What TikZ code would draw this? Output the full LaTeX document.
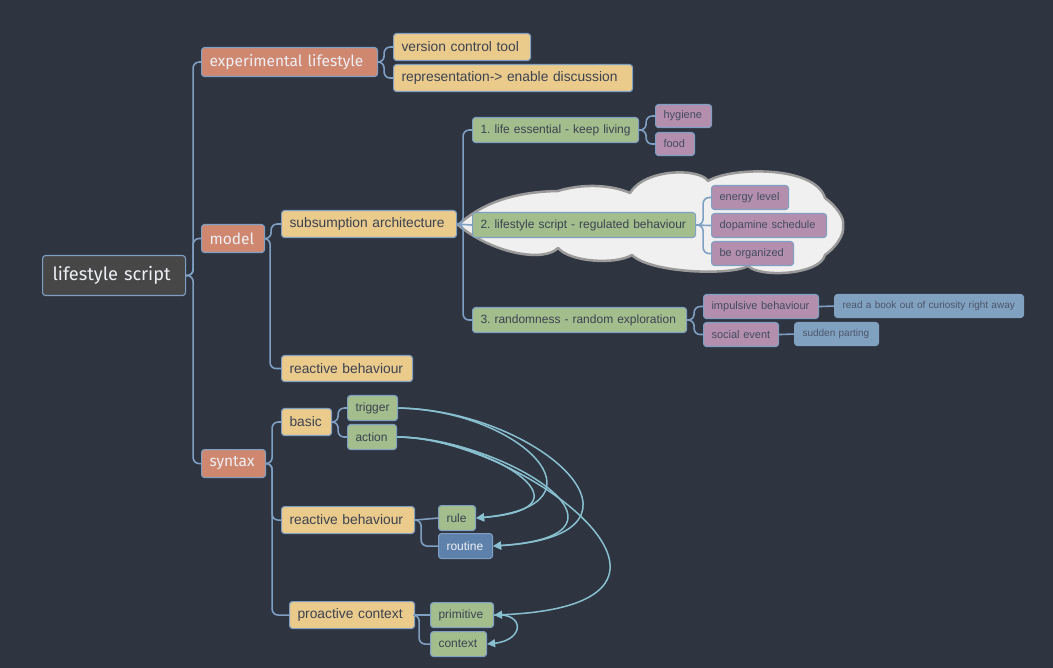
\documentclass[tikz,border=0pt]{standalone}
\usepackage{fontspec}
\setmainfont{Liberation Sans}
\newfontfamily\ubfont{Fira Sans}
\usetikzlibrary{arrows.meta}
\frenchspacing
\definecolor{bg}{HTML}{2E3440}
\definecolor{edgec}{HTML}{7F9FC3}
\definecolor{arrc}{HTML}{88C0D0}
\definecolor{yelc}{HTML}{EBCB8B}
\definecolor{grnc}{HTML}{A3BE8C}
\definecolor{purc}{HTML}{B48EAD}
\definecolor{bluc}{HTML}{81A1C1}
\definecolor{dbluc}{HTML}{5E81AC}
\definecolor{salc}{HTML}{D08770}
\definecolor{rootc}{HTML}{474747}
\definecolor{dtext}{HTML}{3B4252}
\definecolor{ptext}{HTML}{434C5E}
\definecolor{btext}{HTML}{4C566A}
\definecolor{ltext}{HTML}{ECEFF4}
\definecolor{cloudf}{HTML}{F0F0F0}
\definecolor{cloudd}{HTML}{9A9A9A}
\tikzset{
  basebox/.style={rounded corners=3pt, draw=edgec, line width=1.1pt, inner xsep=8pt, inner ysep=0pt, align=left},
  ystyle/.style={basebox, fill=yelc, text=dtext, font=\fontsize{13.8}{16}\selectfont},
  gstyle/.style={basebox, fill=grnc, text=dtext, font=\fontsize{12}{14}\selectfont},
  pstyle/.style={basebox, fill=purc, text=ptext, font=\fontsize{11}{13}\selectfont},
  bstyle/.style={basebox, fill=bluc, draw=bluc, text=btext, font=\fontsize{10}{12}\selectfont},
  sstyle/.style={basebox, fill=salc, text=ltext, font=\ubfont\fontsize{15.5}{18}\selectfont},
  rstyle/.style={gstyle, fill=dbluc, text=ltext},
  treeline/.style={draw=edgec, line width=1.6pt, rounded corners=6pt},
  link/.style={draw=arrc, line width=1.5pt, -{Triangle[length=8pt,width=8pt]}}
}
\newcommand{\mnode}[7]{\pgfmathsetmacro{\mtw}{#5-16}\node[#1, anchor=north west, minimum width=#5pt, minimum height=#6pt, text width=\mtw pt] (#2) at (#3,#4) {\mbox{#7}};}
\newcommand{\tedge}[3]{\draw[treeline] (#1.east) -- ++(#3,0) |- (#2.west);}
\newcommand{\sedge}[2]{\draw[treeline] (#1.east) -- (#2.west);}
\begin{document}
\begin{tikzpicture}[x=1pt,y=-1pt]
\useasboundingbox (0,0) rectangle (1053,668);
\fill[bg] (0,0) rectangle (1053,668);
% cloud
\draw[fill=cloudf, draw=cloudd, line width=2.5pt, line join=round]
  (458,225) .. controls (480,205) and (510,192) .. (558,191)
  .. controls (580,184) and (610,184) .. (630,193)
  .. controls (645,168) and (700,168) .. (708,181)
  .. controls (730,167) and (815,165) .. (825,198)
  .. controls (835,205) and (845,218) .. (843,225)
  .. controls (845,235) and (835,248) .. (825,255)
  .. controls (820,275) and (760,278) .. (748,266)
  .. controls (730,276) and (650,273) .. (632,255)
  .. controls (615,265) and (570,262) .. (558,248)
  .. controls (545,262) and (495,255) .. (458,225) -- cycle;
% nodes
\node[basebox, fill=rootc, text=ltext, font=\ubfont\fontsize{18.2}{22}\selectfont, inner xsep=10pt, anchor=north west, minimum width=143pt, minimum height=40pt, text width=123pt] (root) at (42,255) {\mbox{lifestyle script}};
\mnode{sstyle}{exp}{201}{47}{176}{29}{experimental lifestyle}
\mnode{sstyle}{model}{201}{224}{63}{28}{model}
\mnode{sstyle}{syntax}{201}{449}{64}{28}{syntax}
\mnode{ystyle}{version}{393}{33}{137}{27}{version control tool}
\mnode{ystyle}{repr}{393}{64}{239}{27}{representation-> enable discussion}
\mnode{ystyle}{subs}{281}{210}{175}{27}{subsumption architecture}
\mnode{ystyle}{reactM}{281}{355}{131}{26}{reactive behaviour}
\mnode{ystyle}{basic}{281}{408}{50}{27}{basic}
\mnode{gstyle}{trigger}{347}{395}{50}{25}{trigger}
\mnode{gstyle}{action}{347}{424}{49}{25}{action}
\mnode{ystyle}{reactS}{281}{506}{133}{27}{reactive behaviour}
\mnode{gstyle}{rule}{438}{505}{37}{25}{rule}
\mnode{rstyle}{routine}{438}{533}{54}{25}{routine}
\mnode{ystyle}{proactive}{289}{601}{125}{27}{proactive context}
\mnode{gstyle}{primitive}{430}{602}{63}{25}{primitive}
\mnode{gstyle}{context}{430}{631}{56}{25}{context}
\mnode{gstyle}{lifeA}{472}{117}{166}{25}{1. life essential - keep living}
\mnode{pstyle}{hygiene}{655}{104}{56}{23}{hygiene}
\mnode{pstyle}{food}{655}{132}{39}{23}{food}
\mnode{gstyle}{lifeB}{472}{212}{223}{25}{2. lifestyle script - regulated behaviour}
\mnode{pstyle}{energy}{711}{185}{77}{24}{energy level}
\mnode{pstyle}{dopamine}{711}{213}{115}{24}{dopamine schedule}
\mnode{pstyle}{organized}{711}{241}{82}{24}{be organized}
\mnode{gstyle}{randC}{472}{307}{214}{25}{3. randomness - random exploration}
\mnode{pstyle}{impulsive}{703}{294}{115}{24}{impulsive behaviour}
\mnode{pstyle}{social}{703}{322}{75}{24}{social event}
\mnode{bstyle}{readbook}{834}{294}{189}{23}{read a book out of curiosity right away}
\mnode{bstyle}{sudden}{794}{322}{84}{23}{sudden parting}
% tree edges
\tedge{root}{exp}{7}
\tedge{root}{model}{7}
\tedge{root}{syntax}{7}
\tedge{exp}{version}{6}
\tedge{exp}{repr}{6}
\tedge{model}{subs}{6}
\tedge{model}{reactM}{5}
\tedge{subs}{lifeA}{6}
\sedge{subs}{lifeB}
\tedge{subs}{randC}{6}
\tedge{lifeA}{hygiene}{7}
\tedge{lifeA}{food}{7}
\tedge{lifeB}{energy}{7}
\sedge{lifeB}{dopamine}
\tedge{lifeB}{organized}{7}
\tedge{randC}{impulsive}{7}
\tedge{randC}{social}{7}
\sedge{impulsive}{readbook}
\sedge{social}{sudden}
\tedge{syntax}{basic}{6}
\tedge{syntax}{reactS}{6}
\tedge{syntax}{proactive}{6}
\tedge{basic}{trigger}{6}
\tedge{basic}{action}{6}
\sedge{reactS}{rule}
\tedge{reactS}{routine}{6}
\sedge{proactive}{primitive}
\tedge{proactive}{context}{4}
% relation arrows
\draw[link] (trigger.east) .. controls (520,410) and (615,505) .. (rule.east);
\draw[link] (trigger.east) .. controls (540,410) and (675,535) .. (routine.east);
\draw[link] (action.east) .. controls (480,437) and (605,508) .. (rule.east);
\draw[link] (action.east) .. controls (500,437) and (660,535) .. (routine.east);
\draw[link] (action.east) .. controls (520,437) and (745,605) .. (primitive.east);
\draw[link] (primitive.east) .. controls (525,612) and (525,640) .. (context.east);
\end{tikzpicture}
\end{document}
